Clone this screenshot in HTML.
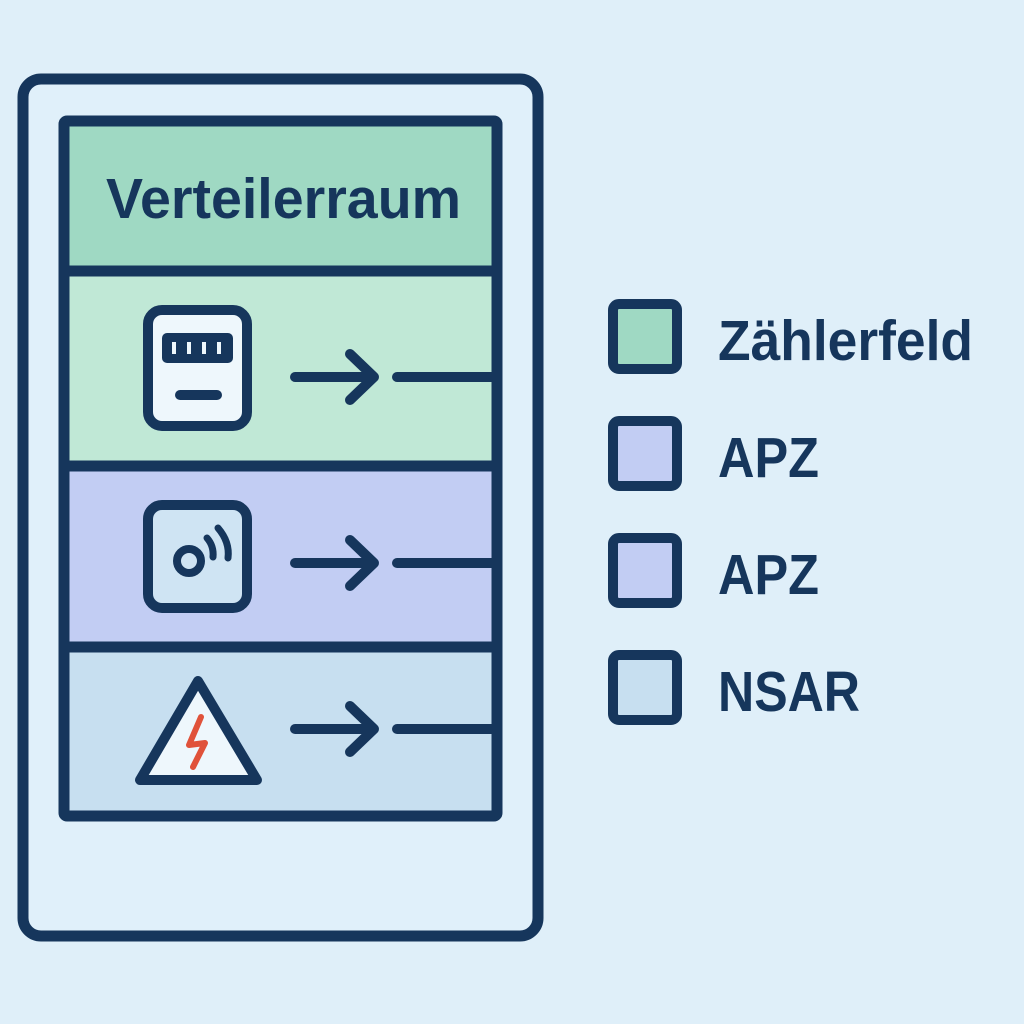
<!DOCTYPE html>
<html><head><meta charset="utf-8"><style>
html,body{margin:0;padding:0;background:#dfeff9;}
svg{display:block;}
text{font-family:"Liberation Sans",sans-serif;font-weight:bold;fill:#16365c;}
</style></head><body>
<svg width="1024" height="1024" viewBox="0 0 1024 1024" xmlns="http://www.w3.org/2000/svg">
<rect width="1024" height="1024" fill="#dfeff9"/>
<rect x="23" y="79" width="515" height="857" rx="18" fill="#e0f0fa" stroke="#16365c" stroke-width="11"/>
<rect x="64" y="121" width="433" height="150" fill="#9fd9c3"/>
<rect x="64" y="271" width="433" height="195" fill="#c0e8d6"/>
<rect x="64" y="466" width="433" height="181" fill="#c2cdf3"/>
<rect x="64" y="647" width="433" height="169" fill="#c7dff0"/>
<rect x="64" y="121" width="433" height="695" rx="3" fill="none" stroke="#16365c" stroke-width="11"/>
<line x1="64" y1="271" x2="497" y2="271" stroke="#16365c" stroke-width="11"/>
<line x1="64" y1="466" x2="497" y2="466" stroke="#16365c" stroke-width="11"/>
<line x1="64" y1="647" x2="497" y2="647" stroke="#16365c" stroke-width="11"/>
<text x="106" y="218" font-size="57" textLength="355" lengthAdjust="spacingAndGlyphs">Verteilerraum</text>
<!-- meter -->
<rect x="148" y="310" width="99" height="116" rx="14" fill="#eef7fc" stroke="#16365c" stroke-width="10"/>
<rect x="162" y="333" width="71" height="30" rx="5" fill="#16365c"/>
<g fill="#eef7fc"><rect x="172" y="342" width="4" height="12"/><rect x="187" y="342" width="4" height="12"/><rect x="202" y="342" width="4" height="12"/><rect x="217" y="342" width="4" height="12"/></g>
<line x1="180" y1="395" x2="217" y2="395" stroke="#16365c" stroke-width="10" stroke-linecap="round"/>
<!-- sensor -->
<rect x="148" y="505" width="99" height="103" rx="14" fill="#cfe4f3" stroke="#16365c" stroke-width="10"/>
<circle cx="189" cy="561" r="12" fill="none" stroke="#16365c" stroke-width="8"/>
<path d="M207 538 Q214 546 213 557" fill="none" stroke="#16365c" stroke-width="7" stroke-linecap="round"/>
<path d="M218 528 Q230 542 228 558" fill="none" stroke="#16365c" stroke-width="7" stroke-linecap="round"/>
<!-- warning -->
<path d="M198 681 L140 780 L257 780 Z" fill="#eef7fc" stroke="#16365c" stroke-width="10" stroke-linejoin="round"/>
<path d="M201 717 L189 745 L205 743 L193 767" fill="none" stroke="#e0523a" stroke-width="6" stroke-linecap="round" stroke-linejoin="round"/>
<!-- arrows -->
<g fill="none" stroke="#16365c" stroke-width="10" stroke-linecap="round" stroke-linejoin="round">
<line x1="295" y1="377" x2="373" y2="377"/><path d="M350 354 L374 377 L350 400"/><line x1="397" y1="377" x2="497" y2="377"/>
<line x1="295" y1="563" x2="373" y2="563"/><path d="M350 540 L374 563 L350 586"/><line x1="397" y1="563" x2="497" y2="563"/>
<line x1="295" y1="729" x2="373" y2="729"/><path d="M350 706 L374 729 L350 752"/><line x1="397" y1="729" x2="497" y2="729"/>
</g>
<!-- legend -->
<g stroke="#16365c" stroke-width="10">
<rect x="613" y="304" width="64" height="65" rx="6" fill="#9fd9c3"/>
<rect x="613" y="421" width="64" height="65" rx="6" fill="#c2cdf3"/>
<rect x="613" y="538" width="64" height="65" rx="6" fill="#c2cdf3"/>
<rect x="613" y="655" width="64" height="65" rx="6" fill="#c7dff0"/>
</g>
<text x="718" y="360" font-size="57" textLength="255" lengthAdjust="spacingAndGlyphs">Zählerfeld</text>
<text x="718" y="477" font-size="57" textLength="101" lengthAdjust="spacingAndGlyphs">APZ</text>
<text x="718" y="594" font-size="57" textLength="101" lengthAdjust="spacingAndGlyphs">APZ</text>
<text x="718" y="711" font-size="57" textLength="142" lengthAdjust="spacingAndGlyphs">NSAR</text>
</svg>
</body></html>
